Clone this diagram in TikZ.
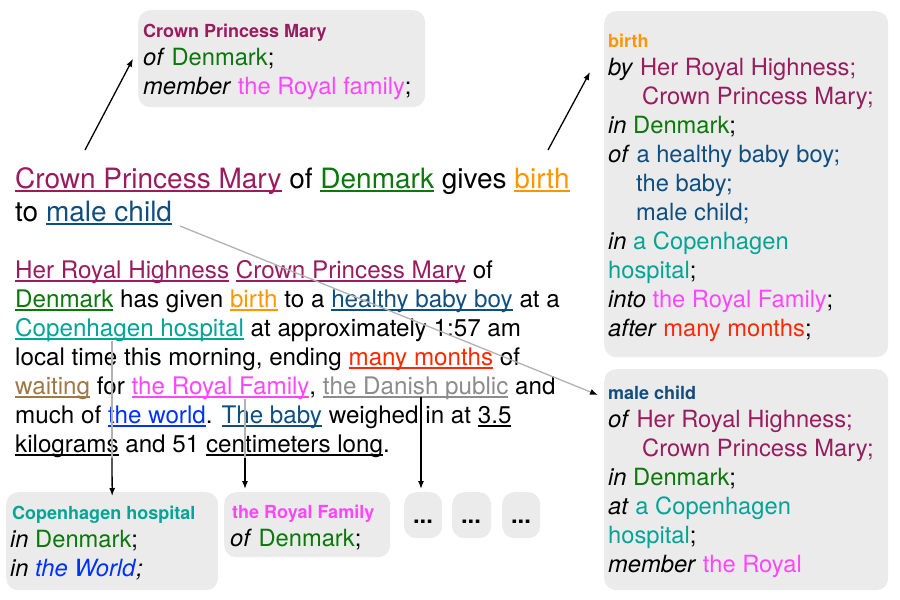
\documentclass[tikz,border=0pt]{standalone}
\usepackage{fontspec}
\setmainfont{TeX Gyre Heros}
\usetikzlibrary{arrows.meta}

\definecolor{cpmary}{RGB}{155,28,94}
\definecolor{denmark}{RGB}{10,120,10}
\definecolor{birthc}{RGB}{255,150,0}
\definecolor{babyc}{RGB}{15,78,128}
\definecolor{hospc}{RGB}{0,165,150}
\definecolor{monthc}{RGB}{255,40,0}
\definecolor{familyc}{RGB}{255,70,255}
\definecolor{waitc}{RGB}{160,120,70}
\definecolor{publicc}{RGB}{140,140,140}
\definecolor{worldc}{RGB}{0,50,255}
\definecolor{boxbg}{RGB}{235,235,235}

\newsavebox{\ulsave}
\newcommand{\ulbox}[1]{\sbox{\ulsave}{#1}\rlap{\rule[-3.5pt]{\wd\ulsave}{1.2pt}}\usebox{\ulsave}}
\newcommand{\ent}[2]{{\color{#1}\ulbox{#2}}}
\newcommand{\rel}[1]{\textit{#1}}

\tikzset{
  card/.style={anchor=north west, fill=boxbg, rounded corners=12pt, inner sep=0pt},
  head/.style={anchor=base west, inner sep=0pt, font=\fontsize{18}{20}\selectfont\bfseries},
  body/.style={anchor=base west, inner sep=0pt, align=left, font=\fontsize{23.7}{29}\selectfont},
  story/.style={body, font=\fontsize{24.2}{29}\selectfont},
  big/.style={anchor=base west, inner sep=0pt, font=\fontsize{28}{34}\selectfont},
  arr/.style={line width=1.3pt, -{Latex[length=8pt,width=6pt]}},
  grayline/.style={line width=1.3pt, black!30}
}

\begin{document}
\begin{tikzpicture}[x=1pt,y=-1pt]
\useasboundingbox (0,0) rectangle (900,600);

\node [card, minimum width=287pt, minimum height=97pt] (boxmary) at (138,10) {};
\node [head, text=cpmary] (hdmary) at (143,37) {Crown Princess Mary};
\node [body] (bdmary) at (143,94) {\rel{of} {\color{denmark}Denmark};\\ \rel{member} {\color{familyc}the Royal family};};

\node [card, minimum width=284pt, minimum height=346pt] (boxbirth) at (604,11) {};
\node [head, text=birthc] (hdbirth) at (608,47) {birth};
\node [body] (bdbirth) at (608,336) {\rel{by} {\color{cpmary}Her Royal Highness;}\\
  \hspace*{34pt}{\color{cpmary}Crown Princess Mary;}\\
  \rel{in} {\color{denmark}Denmark};\\
  \rel{of} {\color{babyc}a healthy baby boy;}\\
  \hspace*{28pt}{\color{babyc}the baby;}\\
  \hspace*{28pt}{\color{babyc}male child;}\\
  \rel{in} {\color{hospc}a Copenhagen}\\
  {\color{hospc}hospital};\\
  \rel{into} {\color{familyc}the Royal Family};\\
  \rel{after} {\color{monthc}many months};};

\node [card, minimum width=284pt, minimum height=221pt] (boxchild) at (604,369) {};
\node [head, text=babyc] (hdchild) at (608,399) {male child};
\node [body] (bdchild) at (608,572) {\rel{of} {\color{cpmary}Her Royal Highness;}\\
  \hspace*{34pt}{\color{cpmary}Crown Princess Mary;}\\
  \rel{in} {\color{denmark}Denmark};\\
  \rel{at} {\color{hospc}a Copenhagen}\\
  {\color{hospc}hospital};\\
  \rel{member} {\color{familyc}the Royal}};

\node [card, minimum width=212pt, minimum height=98pt] (boxhosp) at (6,492) {};
\node [head, text=hospc] (hdhosp) at (12,519) {Copenhagen hospital};
\node [body] (bdhosp) at (10,576) {\rel{in} {\color{denmark}Denmark};\\ \rel{in} {\color{worldc}\textit{the World}}\textit{;}};

\node [card, minimum width=166pt, minimum height=65pt] (boxfam) at (224,492) {};
\node [head, text=familyc] (hdfam) at (232,518) {the Royal Family};
\node [body] (bdfam) at (230,546) {\rel{of} {\color{denmark}Denmark};};

\node [card, minimum width=38pt, minimum height=46pt] (dotsa) at (404,492) {};
\node [card, minimum width=39pt, minimum height=46pt] (dotsb) at (452,492) {};
\node [card, minimum width=38pt, minimum height=46pt] (dotsc) at (502,492) {};
\node [body, anchor=base] (txta) at (423,523) {\textbf{...}};
\node [body, anchor=base] (txtb) at (471,523) {\textbf{...}};
\node [body, anchor=base] (txtc) at (521,523) {\textbf{...}};

\node [big] (title1) at (15,188) {\ent{cpmary}{Crown Princess Mary} of \ent{denmark}{Denmark} gives \ent{birthc}{birth}};
\node [big] (title2) at (15,221) {to \ent{babyc}{male child}};

\node [story] (para) at (15,452) {\ent{cpmary}{Her Royal Highness} \ent{cpmary}{Crown Princess Mary} of\\
  \ent{denmark}{Denmark} has given \ent{birthc}{birth} to a \ent{babyc}{healthy baby boy} at a\\
  \ent{hospc}{Copenhagen hospital} at approximately 1:57 am\\
  local time this morning, ending \ent{monthc}{many months} of\\
  \ent{waitc}{waiting} for \ent{familyc}{the Royal Family}, \ent{publicc}{the Danish public} and\\
  much of \ent{worldc}{the world}. \ent{babyc}{The baby} weighed in at \ulbox{3.5}\\
  \ulbox{kilograms} and 51 \ulbox{centimeters long}.};

\coordinate (srcmary) at (85,150);
\coordinate (srcbirth) at (548,150);
\coordinate (srcchild) at (180,226);
\coordinate (endbirth) at (590,72);
\coordinate (endchild) at (598,395);
\coordinate (srchosp) at (112,341);
\coordinate (midhosp) at (112,458);
\coordinate (srcfam) at (245,399);
\coordinate (midfam) at (245,458);
\coordinate (endfam) at (245,489);
\coordinate (srcpub) at (421,397);
\coordinate (enddots) at (421,489);

\draw [arr] (srcmary) -- ([xshift=-5pt]boxmary.west);
\draw [arr] (srcbirth) -- (endbirth);
\draw [grayline, -{Latex[length=8pt,width=6pt,color=black]}] (srcchild) -- (endchild);
\draw [grayline] (srchosp) -- (midhosp);
\draw [arr] (midhosp) -- ([yshift=-4pt]boxhosp.north);
\draw [grayline] (srcfam) -- (midfam);
\draw [arr] (midfam) -- (endfam);
\draw [arr] (srcpub) -- (enddots);
\end{tikzpicture}
\end{document}
